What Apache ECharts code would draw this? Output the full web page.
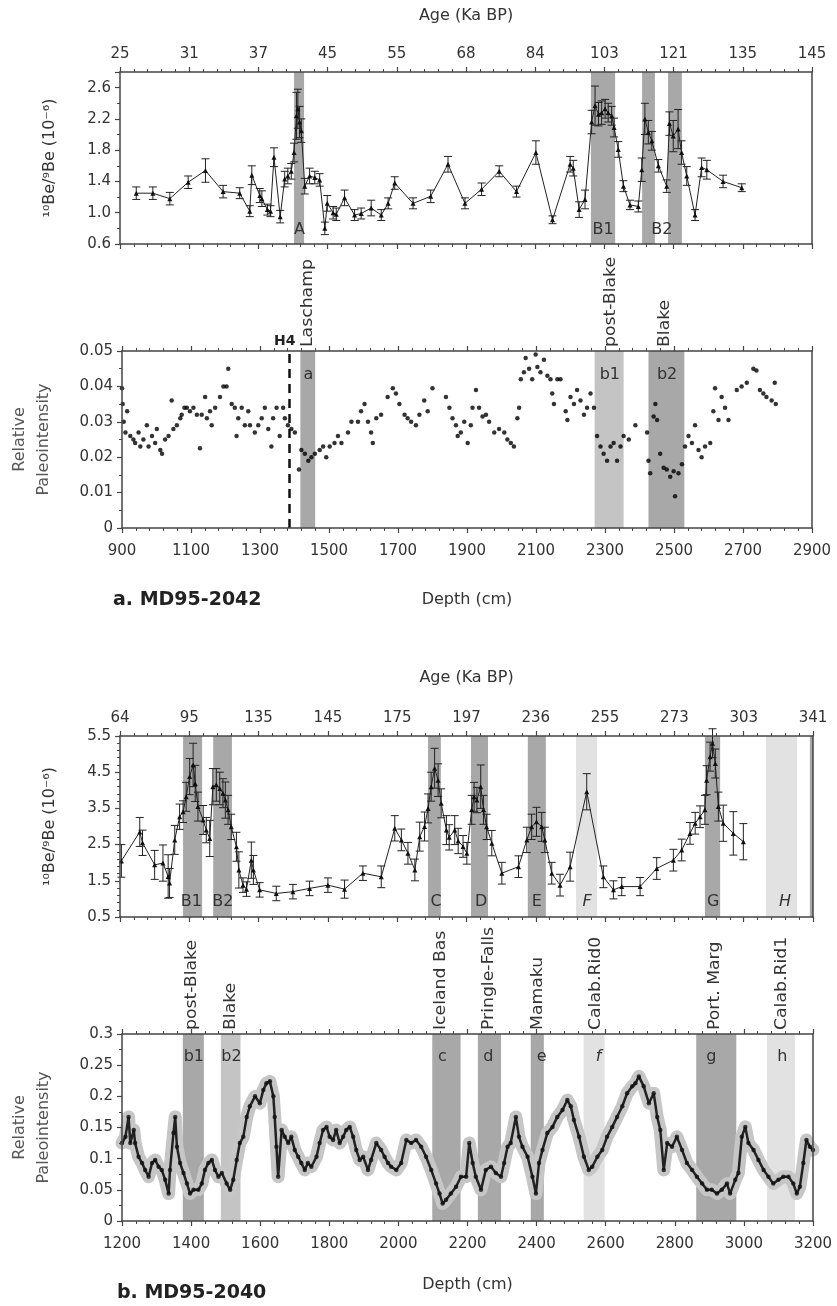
<!DOCTYPE html>
<html><head><meta charset="utf-8">
<script src="https://cdn.jsdelivr.net/npm/echarts@6/dist/echarts.min.js"></script>
<style>html,body{margin:0;padding:0;background:#fff}#c{width:837px;height:1306px}</style>
</head><body><div id="c"></div>
<script>
// ---------- tick labels ----------
const ageTicksA = ['25','31','37','45','55','68','84','103','121','135','145'];
const ageTicksB = ['64','95','135','145','175','197','236','255','273','303','341'];

// ---------- MD95-2042 10Be/9Be : [depth, value, error] ----------
const beA = [[947,1.25,0.08],[995,1.25,0.08],[1044,1.18,0.08],[1097,1.39,0.08],[1147,1.54,0.15],[1198,1.27,0.08],[1246,1.25,0.07],[1275,1.02,0.07],[1281,1.48,0.12],[1304,1.22,0.09],[1310,1.18,0.1],[1326,1.04,0.07],[1335,1.02,0.07],[1345,1.71,0.12],[1363,0.95,0.08],[1376,1.43,0.1],[1385,1.47,0.1],[1395,1.53,0.1],[1403,1.77,0.12],[1410,2.24,0.3],[1414,2.33,0.25],[1419,2.16,0.2],[1424,2.05,0.15],[1434,1.34,0.1],[1448,1.47,0.1],[1463,1.45,0.08],[1477,1.42,0.08],[1492,0.80,0.08],[1499,1.12,0.1],[1516,1.00,0.08],[1525,0.98,0.08],[1549,1.19,0.1],[1578,0.97,0.07],[1597,0.99,0.07],[1626,1.06,0.1],[1655,0.97,0.07],[1675,1.12,0.07],[1694,1.38,0.08],[1747,1.12,0.07],[1798,1.21,0.08],[1848,1.62,0.1],[1897,1.12,0.07],[1945,1.30,0.08],[1996,1.53,0.07],[2046,1.27,0.07],[2102,1.77,0.15],[2150,0.91,0.05],[2201,1.62,0.1],[2210,1.57,0.1],[2227,1.04,0.1],[2244,1.17,0.12],[2263,2.16,0.15],[2273,2.37,0.25],[2283,2.26,0.15],[2292,2.28,0.15],[2302,2.33,0.12],[2311,2.28,0.12],[2321,2.24,0.12],[2328,2.09,0.12],[2340,1.81,0.1],[2355,1.34,0.07],[2374,1.10,0.06],[2398,1.08,0.07],[2408,1.55,0.15],[2417,2.20,0.2],[2427,2.03,0.15],[2437,1.92,0.12],[2456,1.60,0.08],[2480,1.34,0.08],[2488,2.14,0.15],[2499,1.98,0.2],[2513,2.07,0.25],[2523,1.77,0.15],[2538,1.47,0.12],[2562,0.97,0.07],[2581,1.58,0.12],[2596,1.55,0.12],[2643,1.40,0.08],[2697,1.32,0.05]];

// ---------- MD95-2042 relative paleointensity : [depth, value] ----------
const piA = [[900,0.0395],[902,0.035],[905,0.030],[910,0.027],[915,0.033],[924,0.026],[933,0.025],[938,0.024],[948,0.027],[953,0.023],[962,0.025],[972,0.029],[977,0.023],[987,0.026],[996,0.024],[1001,0.028],[1011,0.022],[1016,0.021],[1025,0.025],[1035,0.026],[1044,0.036],[1049,0.028],[1059,0.029],[1069,0.031],[1073,0.032],[1081,0.034],[1088,0.034],[1097,0.033],[1107,0.034],[1117,0.032],[1126,0.0225],[1131,0.032],[1141,0.037],[1146,0.031],[1155,0.033],[1160,0.029],[1170,0.034],[1184,0.037],[1194,0.040],[1203,0.040],[1208,0.045],[1218,0.035],[1227,0.034],[1232,0.026],[1237,0.031],[1247,0.034],[1256,0.029],[1266,0.033],[1271,0.029],[1285,0.027],[1295,0.029],[1305,0.031],[1314,0.034],[1324,0.028],[1333,0.023],[1338,0.031],[1348,0.034],[1357,0.026],[1367,0.034],[1372,0.031],[1381,0.029],[1391,0.028],[1401,0.027],[1413,0.0165],[1420,0.022],[1430,0.021],[1440,0.019],[1449,0.020],[1459,0.021],[1473,0.022],[1483,0.023],[1492,0.020],[1502,0.023],[1516,0.024],[1526,0.026],[1536,0.024],[1555,0.027],[1565,0.030],[1584,0.030],[1593,0.033],[1603,0.035],[1613,0.030],[1622,0.027],[1627,0.024],[1637,0.031],[1651,0.032],[1670,0.037],[1685,0.0395],[1694,0.038],[1704,0.035],[1719,0.032],[1728,0.031],[1738,0.030],[1752,0.029],[1762,0.032],[1776,0.036],[1786,0.033],[1800,0.0395],[1839,0.037],[1849,0.034],[1858,0.031],[1868,0.029],[1873,0.026],[1882,0.027],[1892,0.030],[1902,0.024],[1911,0.029],[1916,0.034],[1926,0.039],[1935,0.034],[1945,0.0315],[1955,0.032],[1964,0.030],[1979,0.027],[1993,0.028],[2008,0.027],[2017,0.025],[2027,0.024],[2036,0.023],[2046,0.031],[2051,0.034],[2056,0.042],[2065,0.044],[2070,0.048],[2080,0.045],[2089,0.042],[2099,0.049],[2104,0.0455],[2113,0.044],[2123,0.0475],[2133,0.043],[2142,0.042],[2147,0.038],[2152,0.035],[2162,0.042],[2171,0.042],[2186,0.033],[2191,0.0305],[2200,0.037],[2210,0.035],[2219,0.039],[2229,0.036],[2239,0.032],[2248,0.034],[2258,0.038],[2268,0.034],[2277,0.026],[2287,0.023],[2296,0.021],[2306,0.019],[2316,0.023],[2325,0.024],[2335,0.019],[2345,0.023],[2354,0.026],[2369,0.025],[2388,0.029],[2422,0.027],[2426,0.019],[2431,0.0155],[2441,0.0315],[2446,0.035],[2451,0.0305],[2460,0.021],[2470,0.017],[2479,0.0165],[2489,0.0145],[2499,0.016],[2503,0.009],[2513,0.0155],[2523,0.018],[2532,0.023],[2542,0.026],[2552,0.024],[2561,0.029],[2571,0.022],[2580,0.020],[2590,0.023],[2605,0.024],[2614,0.033],[2619,0.0395],[2629,0.0305],[2638,0.037],[2648,0.034],[2658,0.0305],[2682,0.039],[2696,0.040],[2711,0.041],[2730,0.045],[2739,0.0445],[2749,0.039],[2759,0.038],[2768,0.037],[2783,0.036],[2792,0.041],[2795,0.035]];

// ---------- MD95-2040 10Be/9Be : [depth, value, error] ----------
const beB = [[1204,2.05,0.45],[1257,2.85,0.4],[1265,2.55,0.35],[1300,1.94,0.4],[1324,1.99,0.5],[1339,1.62,0.6],[1343,1.44,0.4],[1358,2.63,0.4],[1372,3.27,0.35],[1382,3.41,0.3],[1391,3.82,0.4],[1401,4.38,0.5],[1411,4.70,0.6],[1417,4.19,0.5],[1425,3.55,0.4],[1440,3.18,0.4],[1449,2.90,0.35],[1459,2.67,0.5],[1468,4.10,0.5],[1478,4.15,0.45],[1488,4.05,0.45],[1497,3.92,0.4],[1504,3.73,0.5],[1512,3.46,0.4],[1521,2.99,0.35],[1536,2.44,0.4],[1543,1.80,0.5],[1555,1.38,0.2],[1565,1.27,0.2],[1579,2.07,0.5],[1585,1.80,0.4],[1603,1.25,0.2],[1651,1.15,0.2],[1699,1.20,0.2],[1747,1.29,0.2],[1800,1.38,0.2],[1848,1.27,0.25],[1901,1.71,0.2],[1954,1.61,0.3],[1993,2.95,0.35],[2012,2.63,0.3],[2031,2.26,0.3],[2051,1.80,0.3],[2065,2.72,0.4],[2079,3.00,0.4],[2089,3.50,0.4],[2098,4.10,0.4],[2108,4.61,0.55],[2118,4.28,0.45],[2127,3.64,0.4],[2142,2.90,0.4],[2150,2.70,0.35],[2166,2.90,0.4],[2176,2.60,0.35],[2190,2.45,0.3],[2201,2.26,0.3],[2215,3.46,0.4],[2222,3.82,0.4],[2230,3.73,0.35],[2241,4.10,0.6],[2249,3.46,0.4],[2258,2.99,0.35],[2273,2.54,0.35],[2302,1.71,0.3],[2350,1.89,0.3],[2374,2.63,0.35],[2388,2.99,0.35],[2402,3.13,0.4],[2417,2.99,0.4],[2426,2.63,0.35],[2446,1.71,0.3],[2470,1.38,0.3],[2499,1.89,0.4],[2547,3.96,0.5],[2595,1.61,0.3],[2624,1.25,0.25],[2648,1.34,0.25],[2701,1.34,0.25],[2749,1.84,0.3],[2797,2.07,0.3],[2821,2.35,0.3],[2845,2.81,0.3],[2860,3.09,0.3],[2874,3.27,0.3],[2888,3.46,0.4],[2893,4.28,0.4],[2903,4.93,0.4],[2910,5.30,0.4],[2918,4.74,0.4],[2927,3.55,0.4],[2941,3.09,0.5],[2970,2.81,0.6],[2999,2.58,0.5]];

// ---------- MD95-2040 relative paleointensity : [depth, value] ----------
const piB = [[1200,0.125],[1210,0.135],[1219,0.167],[1224,0.125],[1234,0.146],[1238,0.125],[1248,0.103],[1258,0.093],[1267,0.082],[1277,0.071],[1287,0.093],[1296,0.098],[1306,0.087],[1315,0.082],[1325,0.066],[1335,0.044],[1339,0.082],[1349,0.141],[1354,0.167],[1359,0.119],[1368,0.093],[1378,0.077],[1388,0.060],[1397,0.044],[1407,0.050],[1421,0.050],[1431,0.060],[1440,0.082],[1450,0.093],[1460,0.098],[1469,0.082],[1479,0.071],[1489,0.077],[1503,0.060],[1513,0.050],[1522,0.066],[1532,0.098],[1541,0.125],[1551,0.135],[1561,0.167],[1570,0.184],[1585,0.200],[1599,0.189],[1609,0.210],[1618,0.221],[1628,0.224],[1638,0.200],[1642,0.167],[1647,0.119],[1652,0.071],[1662,0.146],[1671,0.135],[1681,0.125],[1690,0.135],[1700,0.114],[1710,0.103],[1719,0.093],[1729,0.082],[1738,0.093],[1748,0.087],[1763,0.103],[1772,0.125],[1782,0.146],[1792,0.151],[1801,0.135],[1811,0.130],[1820,0.146],[1830,0.125],[1840,0.135],[1849,0.146],[1859,0.151],[1869,0.135],[1878,0.114],[1888,0.098],[1898,0.103],[1912,0.082],[1921,0.098],[1936,0.125],[1950,0.114],[1960,0.103],[1970,0.093],[1979,0.087],[1994,0.082],[2008,0.093],[2023,0.130],[2037,0.125],[2051,0.130],[2066,0.119],[2080,0.103],[2095,0.082],[2109,0.060],[2119,0.044],[2128,0.028],[2138,0.034],[2152,0.044],[2167,0.055],[2181,0.071],[2196,0.071],[2205,0.125],[2215,0.093],[2224,0.071],[2239,0.050],[2253,0.082],[2268,0.087],[2282,0.077],[2297,0.071],[2306,0.093],[2316,0.119],[2325,0.125],[2340,0.167],[2349,0.135],[2359,0.119],[2374,0.103],[2388,0.071],[2398,0.044],[2407,0.093],[2417,0.114],[2431,0.141],[2446,0.151],[2460,0.167],[2475,0.178],[2489,0.194],[2499,0.184],[2508,0.162],[2523,0.135],[2537,0.103],[2551,0.082],[2561,0.087],[2576,0.103],[2590,0.114],[2604,0.135],[2619,0.151],[2633,0.167],[2648,0.184],[2662,0.205],[2677,0.216],[2686,0.221],[2696,0.232],[2710,0.216],[2725,0.189],[2739,0.205],[2749,0.167],[2758,0.146],[2768,0.082],[2778,0.125],[2792,0.119],[2806,0.135],[2821,0.114],[2835,0.093],[2850,0.082],[2864,0.071],[2879,0.060],[2893,0.050],[2907,0.050],[2922,0.044],[2936,0.050],[2951,0.060],[2960,0.044],[2975,0.066],[2984,0.077],[2994,0.135],[3004,0.151],[3013,0.125],[3028,0.114],[3042,0.098],[3057,0.082],[3071,0.071],[3085,0.060],[3100,0.066],[3114,0.071],[3129,0.071],[3143,0.060],[3153,0.044],[3162,0.055],[3172,0.093],[3181,0.130],[3191,0.119],[3200,0.114]];

// ---------- event bands : [start depth, end depth, shade 0=dark 1=mid 2=light] ----------
const bandsA1 = [[1403,1432,0],[2261,2331,0],[2409,2446,0],[2484,2524,0]];
const bandsA2 = [[1417,1460,0],[2270,2354,1],[2426,2530,0]];
const bandsB1 = [[1382,1437,0],[1469,1523,0],[2089,2126,0],[2213,2262,0],[2377,2429,0],[2516,2577,2],[2888,2932,0],[3064,3154,2],[3191,3200,0]];
const bandsB2 = [[1376,1437,0],[1486,1543,1],[2098,2180,0],[2230,2297,0],[2383,2421,0],[2536,2597,2],[2862,2978,0],[3067,3148,2]];

// ---------- band letters : [text, depth, italic] ----------
const lettersA1 = [['A',1419,0],['B1',2296,0],['B2',2466,0]];
const lettersA2 = [['a',1440,0],['b1',2314,0],['b2',2480,0]];
const lettersB1 = [['B1',1406,0],['B2',1497,0],['C',2112,0],['D',2242,0],['E',2403,0],['F',2548,1],['G',2912,0],['H',3119,1]];
const lettersB2 = [['b1',1408,0],['b2',1517,0],['c',2127,0],['d',2260,0],['e',2415,0],['f',2579,1],['g',2906,0],['h',3111,0]];

// ---------- excursion names : [text, depth] ----------
const eventsA = [['Laschamp',1438],['post-Blake',2319],['Blake',2475]];
const eventsB = [['post-Blake',1402],['Blake',1517],['Iceland Bas',2124],['Pringle-Falls',2262],['Mamaku',2403],['Calab.Rid0',2571],['Port. Marg',2917],['Calab.Rid1',3111]];
const h4Depth = 1386;

// ================= chart =================
const FONT = '"DejaVu Sans", Verdana, sans-serif';
const AX = '#444';
const TXT = '#333';
const SHADES = ['#a8a8a8','#c4c4c4','#e2e2e2'];
const chart = echarts.init(document.getElementById('c'), null, {renderer:'canvas'});

const grids = [
  {left:120, top:72, width:692, height:172},
  {left:120, top:351, width:692, height:177},
  {left:120, top:736, width:693, height:181},
  {left:120, top:1034, width:693, height:187}
];

function xAx(gi, pos, min, showLabel, fmt, name, gap){
  const o = {type:'value', gridIndex:gi, position:pos, min:min, max:min+2000, interval:200, z:10,
    axisLine:{show:true, onZero:false, lineStyle:{color:AX, width:1.5}},
    axisTick:{show:true, length:5, lineStyle:{color:AX, width:1.2}},
    minorTick:{show:true, splitNumber:5, length:3, lineStyle:{color:AX, width:1}},
    splitLine:{show:false}, minorSplitLine:{show:false},
    axisLabel:{show:showLabel, margin: pos==='top'?10:16, color:TXT, fontSize:15, fontFamily:FONT,
      formatter: fmt || (v => String(v))}};
  if (name){ o.name = name; o.nameLocation='middle'; o.nameGap=gap; o.nameTextStyle={color:TXT, fontSize:16, fontFamily:FONT}; }
  return o;
}
function yAx(gi, min, max, interval, minorSplit, fmt, showMax, name, gap, nameColor, nameLH){
  return {type:'value', gridIndex:gi, position:'left', min:min, max:max, interval:interval, z:10,
    axisLine:{show:true, onZero:false, lineStyle:{color:AX, width:1.5}},
    axisTick:{show:true, length:5, lineStyle:{color:AX, width:1.2}},
    minorTick:{show:true, splitNumber:minorSplit, length:3, lineStyle:{color:AX, width:1}},
    splitLine:{show:false}, minorSplitLine:{show:false},
    axisLabel:{show:true, margin:9, color:TXT, fontSize:15, fontFamily:FONT, formatter:fmt, showMaxLabel:showMax, showMinLabel:true},
    name:name, nameLocation:'middle', nameRotate:90, nameGap:gap,
    nameTextStyle:{color:nameColor, fontSize:16, fontFamily:FONT, lineHeight:nameLH}};
}
function yRight(gi, min, max){
  return {type:'value', gridIndex:gi, position:'right', min:min, max:max, z:10,
    axisLine:{show:true, onZero:false, lineStyle:{color:AX, width:1.5}},
    axisTick:{show:false}, axisLabel:{show:false}, splitLine:{show:false}};
}

const xAxes = [
  xAx(0,'bottom',900,false),
  xAx(0,'top',900,true, v => ageTicksA[Math.round((v-900)/200)], 'Age (Ka BP)', 48),
  xAx(1,'bottom',900,true, null, 'Depth (cm)', 64),
  xAx(1,'top',900,false),
  xAx(2,'bottom',1200,false),
  xAx(2,'top',1200,true, v => ageTicksB[Math.round((v-1200)/200)], 'Age (Ka BP)', 50),
  xAx(3,'bottom',1200,true, null, 'Depth (cm)', 56),
  xAx(3,'top',1200,false)
];
const beName = '\u00B9\u2070Be/\u2079Be (10\u207B\u2076)';
const yAxes = [
  yAx(0,0.6,2.8,0.4,2, v => v.toFixed(1), false, beName, 60, TXT, 20),
  yRight(0,0.6,2.8),
  yAx(1,0,0.05,0.01,2, v => Math.abs(v)<1e-9?'0':v.toFixed(2), true, 'Relative\nPaleointensity', 66, '#555', 24),
  yRight(1,0,0.05),
  yAx(2,0.5,5.5,1,5, v => v.toFixed(1), true, beName, 60, TXT, 20),
  yRight(2,0.5,5.5),
  yAx(3,0,0.3,0.05,2, v => Math.abs(v)<1e-9?'0':String(+v.toFixed(2)), true, 'Relative\nPaleointensity', 66, '#555', 24),
  yRight(3,0,0.3)
];

function bandSeries(data, xi, yi){
  return {type:'custom', xAxisIndex:xi, yAxisIndex:yi, z:1, silent:true, data:data,
    renderItem:(params, api)=>{
      const cs = params.coordSys;
      const s = api.coord([api.value(0), 0])[0];
      const e = api.coord([api.value(1), 0])[0];
      return {type:'rect', shape:{x:s, y:cs.y, width:e-s, height:cs.height},
        style:{fill:SHADES[api.value(2)]}};
    }};
}
function errSeries(data, xi, yi){
  return {type:'custom', xAxisIndex:xi, yAxisIndex:yi, z:3, silent:true, data:data,
    renderItem:(params, api)=>{
      const x = api.value(0), v = api.value(1), e = api.value(2);
      const hi = api.coord([x, v+e]), lo = api.coord([x, v-e]);
      const w = 4;
      const st = {stroke:'#222', lineWidth:1};
      return {type:'group', children:[
        {type:'line', shape:{x1:hi[0], y1:hi[1], x2:lo[0], y2:lo[1]}, style:st},
        {type:'line', shape:{x1:hi[0]-w, y1:hi[1], x2:hi[0]+w, y2:hi[1]}, style:st},
        {type:'line', shape:{x1:lo[0]-w, y1:lo[1], x2:lo[0]+w, y2:lo[1]}, style:st}
      ]};
    }};
}
function beLine(data, xi, yi){
  return {type:'line', xAxisIndex:xi, yAxisIndex:yi, z:4, silent:true,
    data:data.map(d=>[d[0],d[1]]), symbol:'triangle', symbolSize:5,
    itemStyle:{color:'#111'}, lineStyle:{color:'#222', width:1}, animation:false};
}

const series = [
  bandSeries(bandsA1,0,0), errSeries(beA,0,0), beLine(beA,0,0),
  bandSeries(bandsA2,2,2),
  {type:'scatter', xAxisIndex:2, yAxisIndex:2, z:4, data:piA, symbolSize:4.5, itemStyle:{color:'#000'}, silent:true,
   markLine:{silent:true, symbol:'none', animation:false, label:{show:false},
     lineStyle:{type:[9,6], color:'#111', width:2.5}, data:[{xAxis:h4Depth}]}},
  bandSeries(bandsB1,4,4), errSeries(beB,4,4), beLine(beB,4,4),
  bandSeries(bandsB2,6,6),
  {type:'line', xAxisIndex:6, yAxisIndex:6, z:2, data:piB, showSymbol:false, silent:true,
   lineStyle:{color:'#c6c6c6', width:13, join:'round', cap:'round'}},
  {type:'line', xAxisIndex:6, yAxisIndex:6, z:3, data:piB, showSymbol:false, silent:true,
   lineStyle:{color:'#222', width:2.5}},
  {type:'scatter', xAxisIndex:6, yAxisIndex:6, z:4, data:piB, symbolSize:4.5, itemStyle:{color:'#111'}, silent:true}
];

chart.setOption({
  animation:false,
  backgroundColor:'#fff',
  textStyle:{fontFamily:FONT},
  grid:grids,
  xAxis:xAxes, yAxis:yAxes, series:series
});

// ---------- annotations positioned through the axes ----------
const g = [];
function px(xi, d){ return chart.convertToPixel({xAxisIndex:xi}, d); }
function letters(list, xi, y){
  list.forEach(L => g.push({type:'text', x:px(xi,L[1]), y:y, z:20,
    style:{text:L[0], fill:TXT, font:(L[2]?'italic ':'')+'16px '+FONT, align:'center', verticalAlign:'middle'}}));
}
function events(list, xi, y){
  list.forEach(E => g.push({type:'text', x:px(xi,E[1]), y:y, rotation:Math.PI/2, scaleX:1.15, z:20,
    style:{text:E[0], fill:TXT, font:'15px '+FONT, align:'left', verticalAlign:'middle'}}));
}
letters(lettersA1, 0, 230);
letters(lettersA2, 2, 375);
letters(lettersB1, 4, 902);
letters(lettersB2, 6, 1057);
events(eventsA, 2, 347);
events(eventsB, 6, 1030);
g.push({type:'text', x:px(2,h4Depth)-5, y:341, z:20,
  style:{text:'H4', fill:'#222', font:'bold 14px '+FONT, align:'center', verticalAlign:'middle'}});
g.push({type:'text', x:113, y:600, z:20,
  style:{text:'a. MD95-2042', fill:'#222', font:'bold 19px '+FONT, align:'left', verticalAlign:'middle'}});
g.push({type:'text', x:117, y:1293, z:20,
  style:{text:'b. MD95-2040', fill:'#222', font:'bold 19px '+FONT, align:'left', verticalAlign:'middle'}});
chart.setOption({graphic:g});
</script>
</body></html>
